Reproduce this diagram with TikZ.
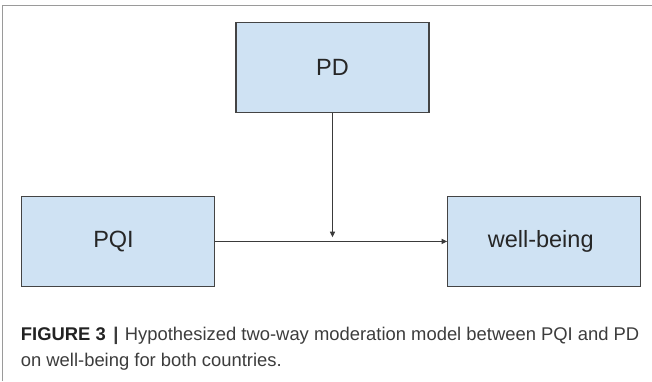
\documentclass[tikz,border=0pt]{standalone}
\usepackage{fontspec}
\setmainfont{Liberation Sans}
\usetikzlibrary{arrows.meta}
\definecolor{boxfill}{HTML}{CFE2F3}
\definecolor{boxline}{HTML}{444444}
\definecolor{linkcol}{HTML}{3A3A3A}
\definecolor{framecol}{HTML}{9A9A9A}
\definecolor{captext}{HTML}{3C3C3C}
\definecolor{capbold}{HTML}{222222}
\begin{document}
\begin{tikzpicture}[x=1pt,y=-1pt,
  varbox/.style={draw=boxline, line width=1.1pt, fill=boxfill,
    minimum width=193pt, minimum height=90pt, inner sep=0pt,
    text=black!85, font=\fontsize{23.5}{28}\selectfont},
  link/.style={draw=linkcol, line width=1.1pt,
    -{Triangle[length=5.5pt,width=5pt]}},
  captionline/.style={anchor=base west, inner sep=0pt, text=captext,
    font=\fontsize{18.4}{25.5}\selectfont}
]
\useasboundingbox (0,0) rectangle (652,381);

% outer frame (top and left rules)
\draw[framecol, line width=1pt] (2.7,381) -- (2.7,5) -- (652,5);

% variables
\node[varbox] (pd)  at (332.5, 67.9)  {PD};
\node[varbox, minimum height=90.7pt] (pqi) at (118, 241.4)   {\hspace*{-9pt}PQI};
\node[varbox, minimum height=90.7pt] (wb)  at (544.2, 241.4) {\hspace*{-7pt}well-being};

% main path and moderating path
\coordinate (modtip) at (332.5, 237.2);
\draw[link] (pqi.east) -- (wb.west);
\draw[link] (pd.south) -- (modtip);

% caption
\node[captionline] (cap1) at (20.7, 340.5)
  {\textcolor{capbold}{\textbf{FIGURE 3}}\hspace{7.5pt}\textbf{|}\hspace{6.5pt}Hypothesized two-way moderation model between PQI and PD};
\node[captionline] (cap2) at (20.7, 366)
  {on well-being for both countries.};
\end{tikzpicture}
\end{document}
